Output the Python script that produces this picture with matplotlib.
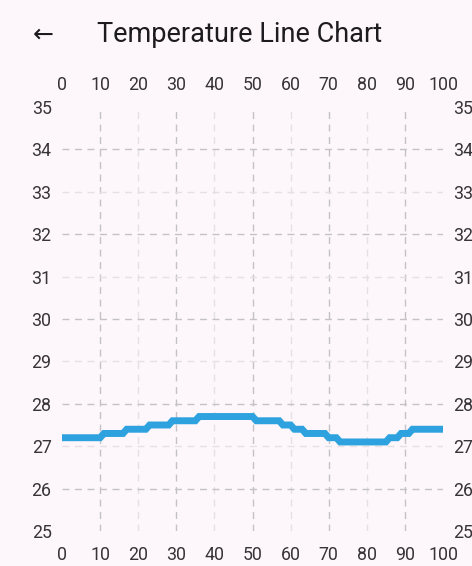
import numpy as np
import matplotlib.pyplot as plt

plt.rcParams['font.family'] = ['Roboto', 'DejaVu Sans']

# temperature reading per x step (0..100)
x_vals = list(range(0, 101))
temps = ([27.2] * 11 + [27.3] * 6 + [27.4] * 6 + [27.5] * 6 + [27.6] * 7
         + [27.7] * 15 + [27.6] * 7 + [27.5] * 3 + [27.4] * 3 + [27.3] * 6
         + [27.2] * 3 + [27.1] * 13 + [27.2] * 3 + [27.3] * 3 + [27.4] * 9)
x_ticks = [0, 10, 20, 30, 40, 50, 60, 70, 80, 90, 100]
y_ticks = [25, 26, 27, 28, 29, 30, 31, 32, 33, 34, 35]

bg = '#FDF7FB'
txt = '#363438'
W, H = 472, 566
fig = plt.figure(figsize=(W / 100, H / 100), dpi=100, facecolor=bg)
ax = fig.add_axes([62 / W, 1 - 531 / H, (443 - 62) / W, (531 - 107) / H])
ax.set_facecolor(bg)

# grid lines, alternating darker / lighter, none on the borders
for i, xv in enumerate(x_ticks[1:-1]):
    c = '#C4C2C4' if i % 2 == 0 else '#E4E1E4'
    ax.axvline(xv, color=c, lw=1, ls=(0, (5, 4)), zorder=1)
for yv in y_ticks[1:-1]:
    c = '#C4C2C4' if yv % 2 == 0 else '#E4E1E4'
    ax.axhline(yv, color=c, lw=1, ls=(0, (5, 4)), zorder=1)

ax.plot(x_vals, temps, color='#2EA2DE', lw=5, solid_capstyle='butt',
        solid_joinstyle='miter', zorder=3)

ax.set_xlim(0, 100)
ax.set_ylim(25, 35)
ax.set_xticks(x_ticks)
ax.set_yticks(y_ticks)
for s in ax.spines.values():
    s.set_visible(False)
ax.tick_params(axis='x', length=0, pad=11, labelsize=12.8, colors=txt)
ax.tick_params(axis='y', length=0, pad=7.5, labelsize=12.8, colors=txt)

# top and right labels with their own padding
top = ax.secondary_xaxis('top')
top.set_xticks(x_ticks)
top.tick_params(length=0, pad=9, labelsize=12.8, colors=txt)
right = ax.secondary_yaxis('right')
right.set_yticks(y_ticks)
right.tick_params(length=0, pad=7.5, labelsize=12.8, colors=txt)
for a in (top, right):
    for s in a.spines.values():
        s.set_visible(False)

fig.text(43 / W, 1 - 35 / H, '\u2190', fontsize=18, ha='center', va='center',
         color='#1D1B20', family=['DejaVu Sans'])
fig.text(97 / W, 1 - 34 / H, 'Temperature Line Chart', fontsize=19.5,
         ha='left', va='center', color='#1D1B20')

fig.savefig('out.png', dpi=100, facecolor=bg)
